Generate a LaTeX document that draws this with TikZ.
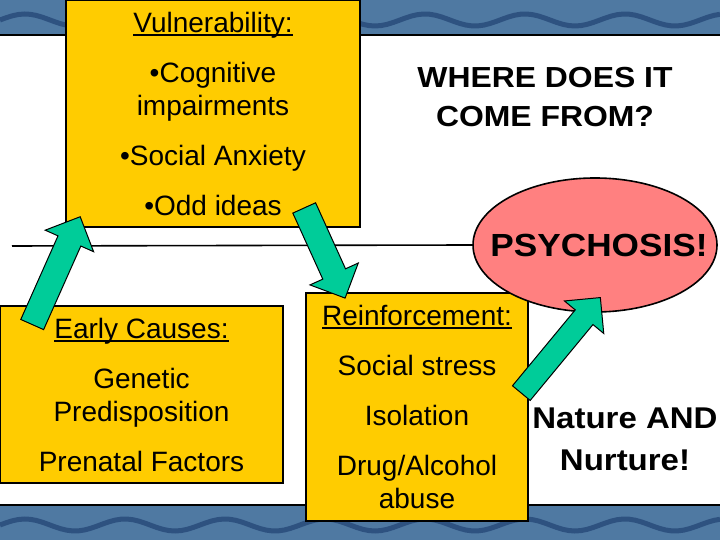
\documentclass[tikz,border=0pt]{standalone}
\usepackage{fontspec}
\setmainfont{Liberation Sans}
\newfontfamily\widebold[FakeStretch=1.1]{Liberation Sans Bold}
\usetikzlibrary{shapes.geometric,shapes.arrows}
\definecolor{gold}{HTML}{FFCC00}
\definecolor{arrowgreen}{HTML}{00CC99}
\definecolor{rosered}{HTML}{FF8080}
\definecolor{bandblue}{HTML}{4F79A2}
\definecolor{banddark}{HTML}{2E5280}
\newcommand{\slideul}[1]{\setbox0\hbox{#1}\rlap{\rule[-3.5pt]{\wd0}{1.8pt}}\box0}

\begin{document}
\begin{tikzpicture}[
  x=1pt,y=1pt,
  every node/.style={align=center,inner sep=0pt},
  box/.style={draw,line width=1.6pt,fill=gold,font=\fontsize{28}{33}\selectfont},
  bigarrow/.style={single arrow,draw,line width=1pt,fill=arrowgreen,
    single arrow head extend=14pt,inner xsep=0pt,inner ysep=12pt,anchor=tail}
]
\useasboundingbox (0,0) rectangle (720,540);
\fill[white] (0,0) rectangle (720,540);
\fill[bandblue] (0,505) rectangle (720,540);
\fill[bandblue] (0,0) rectangle (720,35);
\foreach \yb in {505,0}
  \draw[banddark,line width=5pt,domain=0:720,samples=120] plot (\x,{\yb+15+6*sin(\x*3.6)});
\draw[line width=1.5pt] (0,505) -- (720,505);
\draw[line width=1.5pt] (0,35) -- (720,35);

\node[box,minimum width=294pt,minimum height=227pt] (vuln) at (213,426.5)
  {\slideul{Vulnerability:}\\[17pt]•Cognitive\\impairments\\[17pt]•Social Anxiety\\[17pt]•Odd ideas};
\node[box,minimum width=283pt,minimum height=177pt] (early) at (141.5,145.5)
  {\slideul{Early Causes:}\\[17pt]Genetic\\Predisposition\\[17pt]Prenatal Factors};
\node[box,minimum width=222pt,minimum height=228pt] (reinf) at (417,133)
  {\slideul{Reinforcement:}\\[17pt]Social stress\\[17pt]Isolation\\[17pt]Drug/Alcohol\\abuse};

\node[ellipse,draw,line width=1.6pt,fill=rosered,minimum width=244pt,minimum height=134pt] (psy) at (595,295) {};
\node[font=\widebold\fontsize{32}{38}\selectfont] (psytext) at ([xshift=4pt]psy.center) {PSYCHOSIS!};
\coordinate (rulestart) at (12,294);
\draw[line width=1.6pt] (rulestart) -- (psy.west);

\node[font=\widebold\fontsize{29}{39}\selectfont] (title) at (545,442.5) {WHERE DOES IT\\COME FROM?};
\node[font=\widebold\fontsize{30}{42}\selectfont] (nature) at (625,101) {Nature AND\\Nurture!};

\node[bigarrow,rotate=66,minimum height=118pt] (upleft) at (32,215) {};
\node[bigarrow,rotate=-65.6,minimum height=99pt] (down) at (304,332.5) {};
\node[bigarrow,rotate=50.4,minimum height=124pt,inner ysep=11pt] (upright) at (521,146.5) {};
\end{tikzpicture}
\end{document}
